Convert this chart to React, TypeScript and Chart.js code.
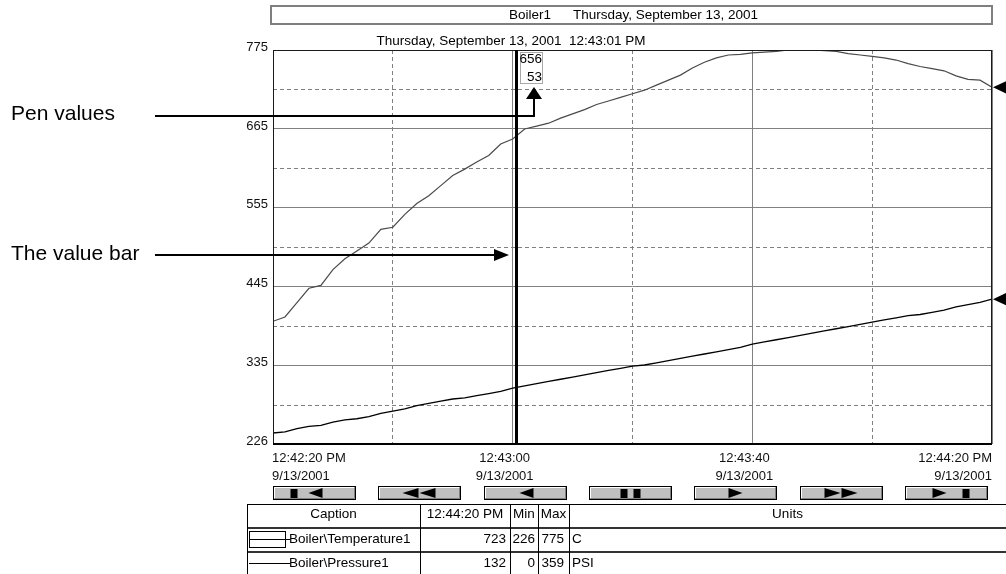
import React, { useEffect, useRef } from "react";
import { Chart, registerables } from "chart.js";

Chart.register(...registerables);

const FONT = '"Liberation Sans", Arial, Helvetica, sans-serif';

// ---- data (seconds after 12:42:20 PM) ----
const sampleSeconds = [
  0, 2, 4, 6, 8, 10, 12, 14, 16, 18, 20, 22, 24, 26, 28, 30, 32, 34, 36, 38, 40,
  42, 44, 46, 48, 50, 52, 54, 56, 58, 60, 62, 64, 66, 68, 70, 72, 74, 76, 78, 80,
  82, 84, 86, 88, 90, 92, 94, 96, 98, 100, 102, 104, 106, 108, 110, 112, 114, 116, 118, 120,
];
const temperatureValues = [
  397, 403, 423, 443, 447, 469, 484, 495, 506, 525, 528, 546, 561, 572, 586, 600, 609, 619, 628, 644, 651,
  665, 669, 673, 680, 686, 692, 699, 704, 709, 714, 719, 726, 733, 740, 750, 758, 764, 768, 769, 771,
  772, 773, 775, 775, 775, 774, 773, 770, 768, 766, 764, 761, 756, 752, 749, 746, 739, 734, 733, 723,
];
const pressureValues = [
  10, 11, 14, 16, 17, 20, 22, 23, 25, 28, 30, 32, 35, 37, 39, 41, 42, 44, 46, 48, 51,
  53, 55, 57, 59, 61, 63, 65, 67, 69, 71, 72, 74, 76, 78, 80, 82, 84, 86, 88, 91,
  93, 95, 97, 99, 101, 103, 105, 107, 109, 111, 113, 115, 117, 118, 120, 122, 125, 127, 129, 132,
];
const temperatureRange = [226, 775];
const pressureRange = [0, 359];
const yMajorTicks = [226, 335, 445, 555, 665, 775];
const yMinorTicks = [280, 390, 500, 610, 720];
const xMajorTicks = [0, 40, 80, 120];
const xMinorTicks = [20, 60, 100];
const xTickTimes = ["12:42:20 PM", "12:43:00", "12:43:40", "12:44:20 PM"];
const xTickDates = ["9/13/2001", "9/13/2001", "9/13/2001", "9/13/2001"];
const cursorSeconds = 40.5;
const cursorLabel = "Thursday, September 13, 2001  12:43:01 PM";
const cursorPenValues = ["656", "53"];
const headerName = "Boiler1";
const headerDate = "Thursday, September 13, 2001";
const calloutLabels = ["Pen values", "The value bar"];
const buttonIcons = ["|<", "<<", "<", "||", ">", ">>", ">|"];
const tableHeaders = ["Caption", "12:44:20 PM", "Min", "Max", "Units"];
const penCaptions = ["Boiler\\Temperature1", "Boiler\\Pressure1"];
const penCurrent = ["723", "132"];
const penMin = ["226", "0"];
const penMax = ["775", "359"];
const penUnits = ["C", "PSI"];

function drawText(ctx: CanvasRenderingContext2D, s: string, x: number, y: number, align: CanvasTextAlign = "left", size = 13.5, color = "#000") {
  ctx.font = `${size}px ${FONT}`;
  ctx.fillStyle = color;
  ctx.textAlign = align;
  ctx.textBaseline = "middle";
  ctx.fillText(s, x, y);
}

function poly(ctx: CanvasRenderingContext2D, pts: number[][]) {
  ctx.beginPath();
  ctx.moveTo(pts[0][0], pts[0][1]);
  for (let i = 1; i < pts.length; i++) ctx.lineTo(pts[i][0], pts[i][1]);
  ctx.closePath();
  ctx.fill();
}

function drawIcon(ctx: CanvasRenderingContext2D, code: string, cx: number, cy: number) {
  ctx.fillStyle = "#000";
  const left = (x: number, w = 14) => poly(ctx, [[x, cy], [x + w, cy - 5], [x + w, cy + 5]]);
  const right = (x: number, w = 14) => poly(ctx, [[x + w, cy], [x, cy - 5], [x, cy + 5]]);
  const bar = (x: number) => ctx.fillRect(x, cy - 4, 7, 9);
  switch (code) {
    case "|<": bar(cx - 24); left(cx - 6); break;
    case "<<": left(cx - 17, 16); left(cx, 16); break;
    case "<": left(cx - 6); break;
    case "||": bar(cx - 10); bar(cx + 3); break;
    case ">": right(cx - 7); break;
    case ">>": right(cx - 17, 16); right(cx, 16); break;
    case ">|": right(cx - 14); bar(cx + 16); break;
  }
}

const decorPlugin = {
  id: "trendDecor",
  afterDraw(chart: any) {
    const ctx: CanvasRenderingContext2D = chart.ctx;
    const ca = chart.chartArea;
    const xs = chart.scales.x;
    const ys = chart.scales.y;
    const yp = chart.scales.yP;
    ctx.save();

    // plot frame
    ctx.strokeStyle = "#1a1a1a";
    ctx.lineWidth = 1;
    ctx.strokeRect(ca.left + 0.5, ca.top + 0.5, ca.right - ca.left - 1, ca.bottom - ca.top - 1);
    ctx.fillStyle = "#000";
    ctx.fillRect(ca.left, ca.bottom - 1, ca.right - ca.left, 2);

    // x tick labels (time over date), placed from the x scale
    xMajorTicks.forEach((v, i) => {
      const px = xs.getPixelForValue(v);
      let align: CanvasTextAlign = "center";
      let x = px - 8;
      if (i === 0) { align = "left"; x = px - 1; }
      else if (i === xMajorTicks.length - 1) { align = "right"; x = px; }
      drawText(ctx, xTickTimes[i], x, ca.bottom + 14, align, 13, "#111");
      drawText(ctx, xTickDates[i], x, ca.bottom + 32, align, 13, "#111");
    });

    // header box
    ctx.strokeStyle = "#7f7f7f";
    ctx.lineWidth = 2;
    ctx.strokeRect(271, 6, 721, 18);
    drawText(ctx, headerName, 509, 15);
    drawText(ctx, headerDate, 573, 15);

    // value bar
    const bx = Math.round(xs.getPixelForValue(cursorSeconds));
    ctx.fillStyle = "#000";
    ctx.fillRect(bx - 1, ca.top, 3, ca.bottom - ca.top);
    drawText(ctx, cursorLabel, bx - 5, ca.top - 9, "center");

    // pen values box
    const px = bx + 4, py = ca.top + 2, pw = 23, ph = 32;
    ctx.fillStyle = "#fff";
    ctx.fillRect(px, py, pw, ph);
    ctx.strokeStyle = "#a8a8a8";
    ctx.lineWidth = 1;
    ctx.strokeRect(px + 0.5, py + 0.5, pw - 1, ph - 1);
    drawText(ctx, cursorPenValues[0], px + pw - 1, py + 7, "right");
    drawText(ctx, cursorPenValues[1], px + pw - 1, py + 25, "right");

    // end-of-pen markers
    ctx.fillStyle = "#000";
    const tY = ys.getPixelForValue(temperatureValues[temperatureValues.length - 1]);
    const pY = yp.getPixelForValue(pressureValues[pressureValues.length - 1]);
    for (const y of [tY, pY]) poly(ctx, [[ca.right + 1, y], [ca.right + 16, y - 7], [ca.right + 16, y + 7]]);

    // callouts
    ctx.strokeStyle = "#000";
    ctx.lineWidth = 2;
    drawText(ctx, calloutLabels[0], 11, 114, "left", 21);
    const ax = px + 14;
    ctx.beginPath();
    ctx.moveTo(155, 116);
    ctx.lineTo(ax, 116);
    ctx.lineTo(ax, py + ph + 12);
    ctx.stroke();
    ctx.fillStyle = "#000";
    poly(ctx, [[ax, py + ph + 3], [ax - 8, py + ph + 15], [ax + 8, py + ph + 15]]);

    drawText(ctx, calloutLabels[1], 11, 254, "left", 21);
    ctx.beginPath();
    ctx.moveTo(155, 255);
    ctx.lineTo(bx - 18, 255);
    ctx.stroke();
    poly(ctx, [[bx - 7, 255], [bx - 22, 249], [bx - 22, 261]]);

    // buttons
    const bw = 83, bh = 14, bTop = 486;
    const step = (ca.right - ca.left - 4 - bw) / (buttonIcons.length - 1);
    buttonIcons.forEach((code, i) => {
      const x0 = Math.round(ca.left + i * step);
      ctx.fillStyle = "#c0c0c0";
      ctx.fillRect(x0, bTop, bw, bh);
      ctx.lineWidth = 1;
      ctx.strokeStyle = "#000";
      ctx.strokeRect(x0 + 0.5, bTop + 0.5, bw - 1, bh - 1);
      ctx.strokeStyle = "#fff";
      ctx.beginPath();
      ctx.moveTo(x0 + 1.5, bTop + bh - 2);
      ctx.lineTo(x0 + 1.5, bTop + 1.5);
      ctx.lineTo(x0 + bw - 2, bTop + 1.5);
      ctx.stroke();
      ctx.strokeStyle = "#808080";
      ctx.beginPath();
      ctx.moveTo(x0 + bw - 1.5, bTop + 1.5);
      ctx.lineTo(x0 + bw - 1.5, bTop + bh - 1.5);
      ctx.lineTo(x0 + 1.5, bTop + bh - 1.5);
      ctx.stroke();
      drawIcon(ctx, code, x0 + bw / 2, bTop + bh / 2);
    });

    // legend table
    const cols = [247, 420, 510, 538, 569];
    const tRight = 1006, tTop = 504, rowH = 24, tBottom = 574;
    ctx.fillStyle = "#000";
    ctx.fillRect(cols[0], tTop, tRight - cols[0], 1);
    ctx.fillStyle = "#333";
    ctx.fillRect(cols[0], tTop + rowH - 1, tRight - cols[0], 2);
    ctx.fillRect(cols[0], tTop + 2 * rowH - 1, tRight - cols[0], 2);
    ctx.fillStyle = "#000";
    for (const c of cols) ctx.fillRect(c, tTop, 1, tBottom - tTop);
    const colEdges = [...cols, tRight];
    tableHeaders.forEach((h, i) => {
      drawText(ctx, h, (colEdges[i] + colEdges[i + 1]) / 2, tTop + 10, "center");
    });
    penCaptions.forEach((cap, r) => {
      const cy = tTop + rowH * (r + 1) + 11;
      ctx.strokeStyle = "#000";
      ctx.lineWidth = 1;
      if (r === 0) {
        ctx.strokeRect(249.5, cy - 7.5, 36, 16);
      }
      ctx.beginPath();
      ctx.moveTo(249, cy + 0.5);
      ctx.lineTo(290, cy + 0.5);
      ctx.stroke();
      drawText(ctx, cap, 289, cy);
      drawText(ctx, penCurrent[r], cols[2] - 4, cy, "right");
      drawText(ctx, penMin[r], cols[3] - 3, cy, "right");
      drawText(ctx, penMax[r], cols[4] - 5, cy, "right");
      drawText(ctx, penUnits[r], cols[4] + 3, cy);
    });

    ctx.restore();
  },
};

export default function App() {
  const ref = useRef<HTMLCanvasElement>(null);
  useEffect(() => {
    const canvas = ref.current!;
    Chart.defaults.font.family = FONT;
    const chart = new Chart(canvas, {
      type: "line",
      data: {
        datasets: [
          {
            label: penCaptions[0],
            data: sampleSeconds.map((t, i) => ({ x: t, y: temperatureValues[i] })),
            xAxisID: "x",
            yAxisID: "y",
            borderColor: "#4a4a4a",
            borderWidth: 1.2,
            pointRadius: 0,
            tension: 0,
            fill: false,
          },
          {
            label: penCaptions[1],
            data: sampleSeconds.map((t, i) => ({ x: t, y: pressureValues[i] })),
            xAxisID: "x",
            yAxisID: "yP",
            borderColor: "#000",
            borderWidth: 1.3,
            pointRadius: 0,
            tension: 0,
            fill: false,
          },
        ],
      },
      options: {
        responsive: false,
        animation: false,
        events: [],
        layout: { padding: { left: 0, right: 14, top: 50, bottom: 0 } },
        plugins: { legend: { display: false }, tooltip: { enabled: false }, title: { display: false } },
        scales: {
          x: {
            type: "linear",
            position: "bottom",
            min: 0,
            max: 120,
            afterBuildTicks: (s: any) => { s.ticks = xMajorTicks.map((v) => ({ value: v })); },
            afterFit: (s: any) => { s.height = 130; },
            grid: { color: "#808080", lineWidth: 1, drawTicks: false },
            border: { display: false },
            ticks: { display: false },
          },
          x2: {
            type: "linear",
            position: "bottom",
            min: 0,
            max: 120,
            afterBuildTicks: (s: any) => { s.ticks = xMinorTicks.map((v) => ({ value: v })); },
            afterFit: (s: any) => { s.height = 0; },
            grid: { color: "#808080", lineWidth: 1, drawTicks: false },
            border: { display: false, dash: [4, 3] },
            ticks: { display: false },
          },
          y: {
            type: "linear",
            position: "left",
            min: temperatureRange[0],
            max: temperatureRange[1],
            afterBuildTicks: (s: any) => { s.ticks = yMajorTicks.map((v) => ({ value: v })); },
            afterFit: (s: any) => { s.width = 273; },
            grid: { color: "#808080", lineWidth: 1, drawTicks: false },
            border: { display: false },
            ticks: {
              padding: 5,
              labelOffset: -3,
              color: "#111",
              font: { size: 13 },
              callback: (v: any) => String(v),
            },
          },
          y2: {
            type: "linear",
            position: "left",
            min: temperatureRange[0],
            max: temperatureRange[1],
            afterBuildTicks: (s: any) => { s.ticks = yMinorTicks.map((v) => ({ value: v })); },
            afterFit: (s: any) => { s.width = 0; },
            grid: { color: "#808080", lineWidth: 1, drawTicks: false },
            border: { display: false, dash: [4, 3] },
            ticks: { display: false },
          },
          yP: {
            type: "linear",
            display: false,
            min: pressureRange[0],
            max: pressureRange[1],
          },
        },
      },
      plugins: [decorPlugin],
    } as any);
    return () => chart.destroy();
  }, []);
  return (
    <div style={{ position: "fixed", left: 0, top: 0, width: 1006, height: 574, background: "#fff" }}>
      <canvas ref={ref} width={1006} height={574} style={{ display: "block" }} />
    </div>
  );
}
